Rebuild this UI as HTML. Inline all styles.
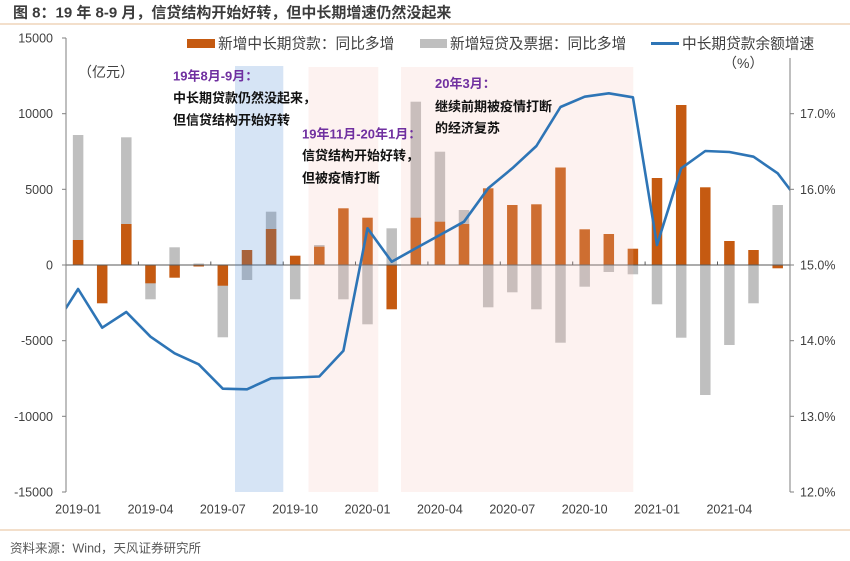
<!DOCTYPE html>
<html>
<head>
<meta charset="utf-8">
<style>
  html, body { margin:0; padding:0; background:#fff; }
  body { width:850px; height:561px; overflow:hidden; }
  svg { display:block; }
  text { font-family: "Liberation Sans", "Noto Sans CJK SC", sans-serif; }
</style>
</head>
<body>
<svg width="850" height="561" viewBox="0 0 850 561" xmlns="http://www.w3.org/2000/svg">
  <defs>
    <clipPath id="plot"><rect x="66" y="30" width="724" height="470"/></clipPath>
  </defs>

  <!-- Title -->
  <text x="13" y="17.5" font-size="15" font-weight="700" fill="#3c3c3c">图 8：19 年 8-9 月，信贷结构开始好转，但中长期增速仍然没起来</text>
  <rect x="0" y="23" width="850" height="2" fill="#f3dfcb"/>

  <!-- Legend -->
  <rect x="187" y="39" width="28" height="9" fill="#c55a11"/>
  <text x="218" y="48.5" font-size="14.7" fill="#404040">新增中长期贷款：同比多增</text>
  <rect x="420" y="39" width="27" height="9" fill="#bfbfbf"/>
  <text x="450" y="48.5" font-size="14.7" fill="#404040">新增短贷及票据：同比多增</text>
  <line x1="651" y1="43.5" x2="679" y2="43.5" stroke="#2e75b6" stroke-width="3"/>
  <text x="682" y="48.5" font-size="14.7" fill="#404040">中长期贷款余额增速</text>

  <!-- unit labels -->
  <text x="78" y="77" font-size="14" fill="#404040">（亿元）</text>
  <text x="723" y="68" font-size="14" fill="#404040">（%）</text>

  <!-- Gray bars -->
  <g fill="#bfbfbf">
    <rect x="72.85" y="135" width="10.5" height="130"/>
    <rect x="121.05" y="137.3" width="10.5" height="127.7"/>
    <rect x="145.25" y="265" width="10.5" height="34.3"/>
    <rect x="169.35" y="247.3" width="10.5" height="17.7"/>
    <rect x="193.45" y="263.5" width="10.5" height="1.5"/>
    <rect x="217.55" y="265" width="10.5" height="72.3"/>
    <rect x="241.75" y="265" width="10.5" height="15"/>
    <rect x="265.85" y="211.7" width="10.5" height="53.3"/>
    <rect x="289.95" y="265" width="10.5" height="34.3"/>
    <rect x="314.05" y="245" width="10.5" height="20"/>
    <rect x="338.15" y="265" width="10.5" height="34.3"/>
    <rect x="362.25" y="265" width="10.5" height="59.3"/>
    <rect x="386.45" y="228.3" width="10.5" height="36.7"/>
    <rect x="410.55" y="101.7" width="10.5" height="163.3"/>
    <rect x="434.65" y="151.7" width="10.5" height="113.3"/>
    <rect x="458.75" y="210" width="10.5" height="55"/>
    <rect x="482.95" y="265" width="10.5" height="42.3"/>
    <rect x="507.05" y="265" width="10.5" height="27.3"/>
    <rect x="531.15" y="265" width="10.5" height="44.3"/>
    <rect x="555.25" y="265" width="10.5" height="77.7"/>
    <rect x="579.45" y="265" width="10.5" height="21.7"/>
    <rect x="603.55" y="265" width="10.5" height="7"/>
    <rect x="627.65" y="265" width="10.5" height="9.3"/>
    <rect x="651.75" y="265" width="10.5" height="39.3"/>
    <rect x="675.95" y="265" width="10.5" height="72.7"/>
    <rect x="700.05" y="265" width="10.5" height="130"/>
    <rect x="724.15" y="265" width="10.5" height="80"/>
    <rect x="748.25" y="265" width="10.5" height="38.3"/>
    <rect x="772.45" y="205" width="10.5" height="60"/>
  </g>

  <!-- Orange bars -->
  <g fill="#c55a11">
    <rect x="72.85" y="240" width="10.5" height="25"/>
    <rect x="96.95" y="265" width="10.5" height="38.3"/>
    <rect x="121.05" y="224" width="10.5" height="41"/>
    <rect x="145.25" y="265" width="10.5" height="18.3"/>
    <rect x="169.35" y="265" width="10.5" height="12.7"/>
    <rect x="193.45" y="265" width="10.5" height="1.5"/>
    <rect x="217.55" y="265" width="10.5" height="20.7"/>
    <rect x="241.75" y="250" width="10.5" height="15"/>
    <rect x="265.85" y="229" width="10.5" height="36"/>
    <rect x="289.95" y="255.7" width="10.5" height="9.3"/>
    <rect x="314.05" y="246.7" width="10.5" height="18.3"/>
    <rect x="338.15" y="208.3" width="10.5" height="56.7"/>
    <rect x="362.25" y="217.7" width="10.5" height="47.3"/>
    <rect x="386.45" y="265" width="10.5" height="44.3"/>
    <rect x="410.55" y="217.7" width="10.5" height="47.3"/>
    <rect x="434.65" y="221.7" width="10.5" height="43.3"/>
    <rect x="458.75" y="224" width="10.5" height="41"/>
    <rect x="482.95" y="188.3" width="10.5" height="76.7"/>
    <rect x="507.05" y="205" width="10.5" height="60"/>
    <rect x="531.15" y="204.3" width="10.5" height="60.7"/>
    <rect x="555.25" y="167.5" width="10.5" height="97.5"/>
    <rect x="579.45" y="229.3" width="10.5" height="35.7"/>
    <rect x="603.55" y="234" width="10.5" height="31"/>
    <rect x="627.65" y="248.7" width="10.5" height="16.3"/>
    <rect x="651.75" y="178" width="10.5" height="87"/>
    <rect x="675.95" y="105" width="10.5" height="160"/>
    <rect x="700.05" y="187.3" width="10.5" height="77.7"/>
    <rect x="724.15" y="241" width="10.5" height="24"/>
    <rect x="748.25" y="250" width="10.5" height="15"/>
    <rect x="772.45" y="265" width="10.5" height="3.3"/>
  </g>

  <!-- Zero line and category ticks -->
  <line x1="66" y1="265" x2="790" y2="265" stroke="#595959" stroke-width="1"/>
  <g stroke="#595959" stroke-width="1">
    <line x1="138.4" y1="261.5" x2="138.4" y2="265"/>
    <line x1="210.8" y1="261.5" x2="210.8" y2="265"/>
    <line x1="283.2" y1="261.5" x2="283.2" y2="265"/>
    <line x1="355.5" y1="261.5" x2="355.5" y2="265"/>
    <line x1="427.9" y1="261.5" x2="427.9" y2="265"/>
    <line x1="500.3" y1="261.5" x2="500.3" y2="265"/>
    <line x1="572.7" y1="261.5" x2="572.7" y2="265"/>
    <line x1="645.1" y1="261.5" x2="645.1" y2="265"/>
    <line x1="717.5" y1="261.5" x2="717.5" y2="265"/>
  </g>

  <!-- Shaded regions (overlay) -->
  <rect x="235" y="66" width="48.3" height="426" fill="rgb(70,130,210)" fill-opacity="0.22"/>
  <rect x="308.5" y="67" width="69.8" height="425" fill="rgb(245,190,180)" fill-opacity="0.2"/>
  <rect x="401" y="67" width="232.3" height="425" fill="rgb(245,190,180)" fill-opacity="0.2"/>

  <!-- Line series -->
  <polyline clip-path="url(#plot)" fill="none" stroke="#2e75b6" stroke-width="2.6" stroke-linejoin="round"
    points="53.9,327 78.1,289 102.2,327.7 126.3,312 150.5,336.7 174.6,353.3 198.7,364.3 222.8,388.7 247,389.3 271.1,378.3 295.2,377.5 319.3,376.5 343.4,350.7 367.5,228.3 391.7,261.7 415.8,248.3 439.9,235 464,221.7 488.2,188.3 512.3,168.3 536.4,146 560.5,107 584.7,96.7 608.8,93.3 632.9,97.3 657,245 681.2,168.3 705.3,151 729.4,152 753.5,156.7 777.7,173.3 801.8,205"/>

  <!-- Axes -->
  <line x1="66" y1="38" x2="66" y2="492" stroke="#7f7f7f" stroke-width="1"/>
  <g stroke="#7f7f7f" stroke-width="1">
    <line x1="62" y1="38" x2="66" y2="38"/>
    <line x1="62" y1="113.7" x2="66" y2="113.7"/>
    <line x1="62" y1="189.3" x2="66" y2="189.3"/>
    <line x1="62" y1="265" x2="66" y2="265"/>
    <line x1="62" y1="340.7" x2="66" y2="340.7"/>
    <line x1="62" y1="416.3" x2="66" y2="416.3"/>
    <line x1="62" y1="492" x2="66" y2="492"/>
  </g>
  <line x1="790" y1="58" x2="790" y2="492" stroke="#7f7f7f" stroke-width="1"/>
  <g stroke="#7f7f7f" stroke-width="1">
    <line x1="790" y1="113.7" x2="794" y2="113.7"/>
    <line x1="790" y1="189.3" x2="794" y2="189.3"/>
    <line x1="790" y1="265" x2="794" y2="265"/>
    <line x1="790" y1="340.7" x2="794" y2="340.7"/>
    <line x1="790" y1="416.3" x2="794" y2="416.3"/>
    <line x1="790" y1="492" x2="794" y2="492"/>
  </g>

  <!-- Left labels -->
  <g font-size="12.5" fill="#404040" text-anchor="end">
    <text x="53" y="42.5">15000</text>
    <text x="53" y="118.2">10000</text>
    <text x="53" y="193.8">5000</text>
    <text x="53" y="269.5">0</text>
    <text x="53" y="345.2">-5000</text>
    <text x="53" y="420.8">-10000</text>
    <text x="53" y="496.5">-15000</text>
  </g>
  <!-- Right labels -->
  <g font-size="12.5" fill="#404040">
    <text x="800" y="118.2">17.0%</text>
    <text x="800" y="193.8">16.0%</text>
    <text x="800" y="269.5">15.0%</text>
    <text x="800" y="345.2">14.0%</text>
    <text x="800" y="420.8">13.0%</text>
    <text x="800" y="496.5">12.0%</text>
  </g>
  <!-- X labels -->
  <g font-size="12.5" fill="#404040" text-anchor="middle">
    <text x="78.1" y="513.5">2019-01</text>
    <text x="150.5" y="513.5">2019-04</text>
    <text x="222.8" y="513.5">2019-07</text>
    <text x="295.2" y="513.5">2019-10</text>
    <text x="367.5" y="513.5">2020-01</text>
    <text x="439.9" y="513.5">2020-04</text>
    <text x="512.3" y="513.5">2020-07</text>
    <text x="584.7" y="513.5">2020-10</text>
    <text x="657" y="513.5">2021-01</text>
    <text x="729.4" y="513.5">2021-04</text>
  </g>

  <!-- Annotations -->
  <g font-size="13" font-weight="700">
    <text x="173" y="80.5" fill="#7030a0">19年8月-9月：</text>
    <text x="173" y="102.5" fill="#111">中长期贷款仍然没起来，</text>
    <text x="173" y="124.5" fill="#111">但信贷结构开始好转</text>

    <text x="302" y="138.5" fill="#7030a0">19年11月-20年1月：</text>
    <text x="302" y="160" fill="#111">信贷结构开始好转，</text>
    <text x="302" y="182.5" fill="#111">但被疫情打断</text>

    <text x="435" y="88" fill="#7030a0">20年3月：</text>
    <text x="435" y="111" fill="#111">继续前期被疫情打断</text>
    <text x="435" y="132.5" fill="#111">的经济复苏</text>
  </g>

  <!-- Footer -->
  <rect x="0" y="529" width="850" height="2" fill="#f3dfcb"/>
  <text x="10" y="552.5" font-size="12.5" fill="#595959">资料来源：Wind，天风证券研究所</text>
</svg>
</body>
</html>
